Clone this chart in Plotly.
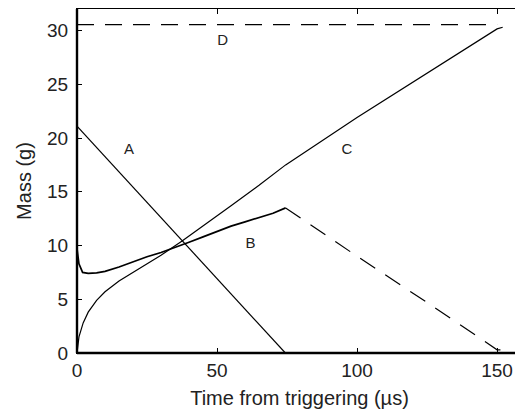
import plotly.graph_objects as go

# Curve A
a_x = [0, 74.4]
a_y = [21.1, 0]

# Curve B (solid part, then dashed part)
b_solid_x = [0, 0.7, 2, 4, 7, 10, 15, 20, 25, 30, 35, 40, 45, 50, 55, 60, 65, 70, 74.5]
b_solid_y = [9.7, 8.3, 7.5, 7.4, 7.45, 7.6, 8.0, 8.5, 8.95, 9.35, 9.8, 10.3, 10.8, 11.3, 11.8, 12.2, 12.6, 13.0, 13.5]
b_dash_x = [74.5, 100, 125, 149.5, 150, 152]
b_dash_y = [13.5, 9.0, 4.7, 0.45, 0.3, 0.3]

# Curve C
c_x = [0, 0.7, 2.2, 4, 7, 10, 15, 20, 25, 30, 37.4, 45, 55, 65, 74.5, 100, 125, 150, 152]
c_y = [0, 1.5, 2.8, 3.8, 4.9, 5.7, 6.7, 7.5, 8.3, 9.1, 10.4, 11.8, 13.7, 15.6, 17.5, 21.9, 26.0, 30.15, 30.3]

# Curve D
d_x = [0, 150]
d_y = [30.55, 30.55]

# Curve labels
lab_text = ["A", "B", "C", "D"]
lab_x = [18.6, 62, 96.4, 52]
lab_y = [18.9, 10.1, 18.9, 29.0]

x_ticks = [0, 50, 100, 150]
y_ticks = [0, 5, 10, 15, 20, 25, 30]

FONT = "Liberation Sans, Arial, sans-serif"
fig = go.Figure()
line = dict(color="black", width=1.2)
fig.add_trace(go.Scatter(x=a_x, y=a_y, mode="lines", line=line))
fig.add_trace(go.Scatter(x=b_solid_x, y=b_solid_y, mode="lines", line=dict(color="black", width=1.7)))
fig.add_trace(go.Scatter(x=b_dash_x, y=b_dash_y, mode="lines", line=dict(color="black", width=1.2, dash="18px,12px")))
fig.add_trace(go.Scatter(x=c_x, y=c_y, mode="lines", line=line))
fig.add_trace(go.Scatter(x=d_x, y=d_y, mode="lines", line=dict(color="black", width=1.2, dash="17px,11px")))
fig.add_trace(go.Scatter(x=lab_x, y=lab_y, mode="text", text=lab_text,
                         textfont=dict(family=FONT, size=15, color="#222")))

axis_common = dict(showgrid=False, zeroline=False, showline=True, linecolor="black", linewidth=1.3,
                   mirror="ticks", ticks="inside", ticklen=5, tickcolor="black", tickwidth=1,
                   automargin=False,
                   tickfont=dict(family=FONT, size=19, color="#222"))
fig.update_xaxes(range=[0, 158.9], tickvals=x_ticks, **axis_common,
                 title=dict(text="Time from triggering (µs)", font=dict(family=FONT, size=20, color="#222"), standoff=11))
fig.update_yaxes(range=[0, 32], tickvals=y_ticks, **axis_common, ticklabelstandoff=4,
                 title=dict(text="Mass (g)", font=dict(family=FONT, size=20, color="#222"), standoff=9))

fig.add_shape(type="line", xref="paper", yref="paper", x0=0, x1=0, y0=0, y1=1, line=dict(color="black", width=2.4))
fig.add_shape(type="line", xref="paper", yref="paper", x0=0, x1=1, y0=0, y1=0, line=dict(color="black", width=2.4))

# page body has an 8px default margin, so the margins below are offset by 8px
fig.update_layout(width=523, height=410, margin=dict(l=69, r=9, t=1, b=65),
                  plot_bgcolor="white", paper_bgcolor="white", showlegend=False,
                  font=dict(family=FONT))
fig.write_html("out.html")
